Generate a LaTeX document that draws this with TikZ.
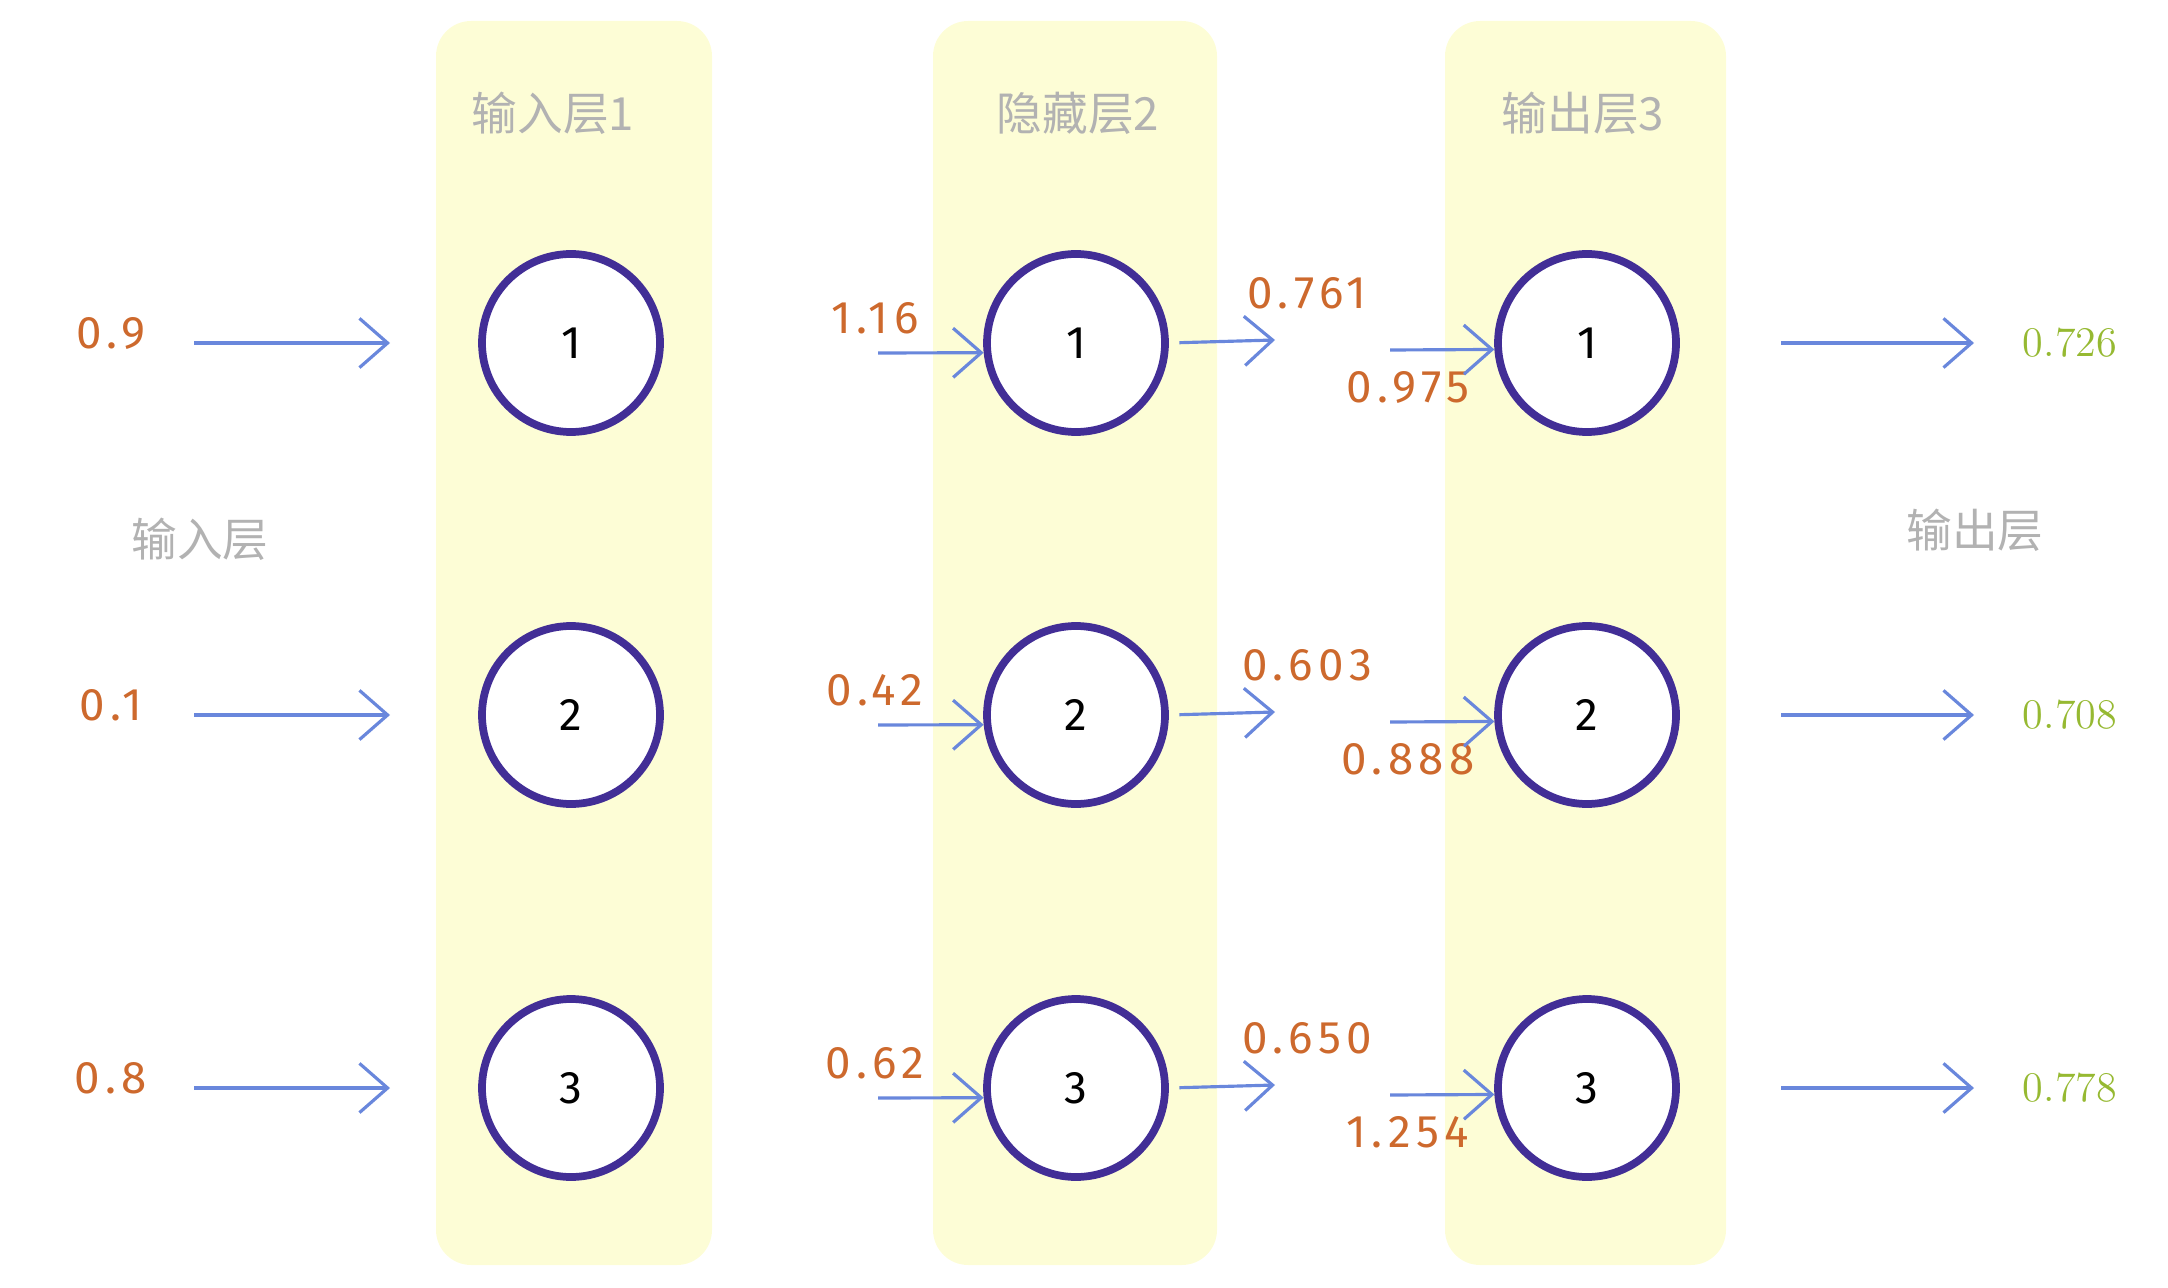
\documentclass[tikz,border=0pt]{standalone}
\usepackage{fontspec}
\usetikzlibrary{arrows.meta}
\newfontfamily\cjk{Noto Sans CJK SC}
\newfontfamily\numfont{Fira Sans}[LetterSpace=12]
\definecolor{bandyellow}{RGB}{253,253,214}
\definecolor{neuronblue}{RGB}{66,46,150}
\definecolor{arrowblue}{RGB}{105,135,220}
\definecolor{valorange}{RGB}{205,105,45}
\definecolor{outgreen}{RGB}{150,185,50}
\definecolor{labelgray}{RGB}{178,178,178}

\begin{document}
\begin{tikzpicture}[
		neuron/.style={circle, draw=neuronblue, line width=2.2pt, fill=white, minimum size=1.78cm, inner sep=0pt, font=\numfont\fontsize{13}{15}\selectfont},
		value/.style={text=valorange, font=\numfont\fontsize{13}{15}\selectfont},
		result/.style={text=outgreen, font=\fontsize{12}{14}\selectfont},
		layername/.style={text=labelgray, font=\cjk\fontsize{13}{15}\selectfont},
		band/.style={fill=bandyellow, rounded corners=10pt},
		flow/.style={draw=arrowblue, line width=0.9pt, -{Straight Barb[length=8pt,width=14pt]}}
	]
		\useasboundingbox (0,0) rectangle (21.68,-12.88);
		% Layer bands
		\fill[band] (4.36,-0.21) rectangle (7.12,-12.65);
		\fill[band] (9.33,-0.21) rectangle (12.17,-12.65);
		\fill[band] (14.45,-0.21) rectangle (17.26,-12.65);
		% Layer names
		\node[layername] (t1) at (5.53,-1.13) {输入层1};
		\node[layername] (t2) at (10.78,-1.13) {隐藏层2};
		\node[layername] (t3) at (15.83,-1.13) {输出层3};
		\node[layername] (inname) at (2.00,-5.39) {输入层};
		\node[layername] (outname) at (19.75,-5.30) {输出层};
		% Neurons, values and arrows for each row
		\foreach \r/\y/\a/\b/\c/\d/\e in {1/-3.43/0.9/1.16/0.761/0.975/0.726,
				2/-7.15/0.1/0.42/0.603/0.888/0.708,
				3/-10.88/0.8/0.62/0.650/1.254/0.778} {
			\node[neuron] (i\r) at (5.71,\y) {\r};
			\node[neuron] (h\r) at (10.76,\y) {\r};
			\node[neuron] (o\r) at (15.87,\y) {\r};
			% input side
			\node[value] (x\r) at (1.11,\y+0.10) {\a};
			\coordinate (xs\r) at (1.94,\y);
			\coordinate (xe\r) at (3.90,\y);
			\draw[flow] (xs\r) -- (xe\r);
			% into hidden layer
			\node[value] (hv\r) at (8.75,\y+0.25) {\b};
			\coordinate (hs\r) at (8.78,\y-0.10);
			\draw[flow] (hs\r) -- (h\r.186);
			% out of hidden layer
			\node[value] (ha\r) at (13.07,\y+0.50) {\c};
			\coordinate (he\r) at (12.75,\y+0.03);
			\draw[flow, shorten <=3pt] (h\r.east) -- (he\r);
			% into output layer
			\node[value] (ov\r) at (14.08,\y-0.44) {\d};
			\coordinate (os\r) at (13.90,\y-0.07);
			\draw[flow] (os\r) -- (o\r.184);
			% results
			\coordinate (ys\r) at (17.81,\y);
			\coordinate (ye\r) at (19.74,\y);
			\draw[flow] (ys\r) -- (ye\r);
			\node[result] (y\r) at (20.70,\y) {\e};
		}
	\end{tikzpicture}
\end{document}
